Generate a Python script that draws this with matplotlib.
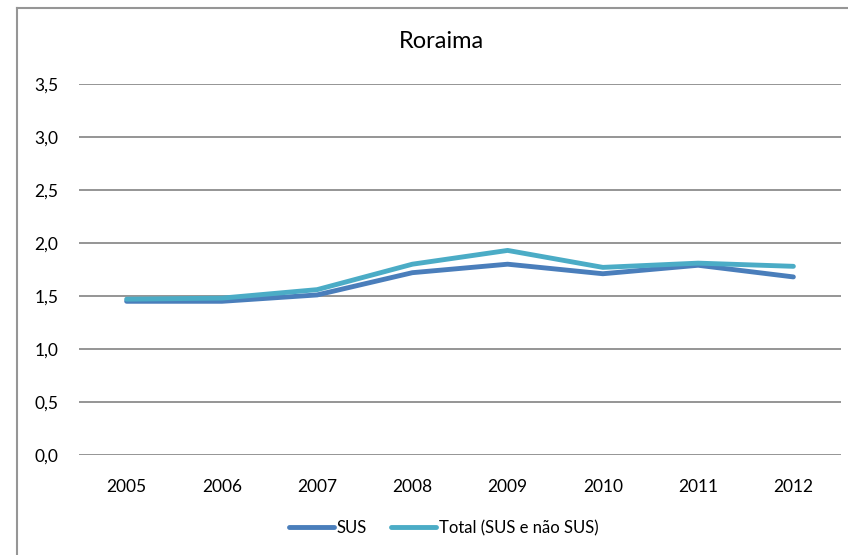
import matplotlib
matplotlib.use("Agg")
import matplotlib.pyplot as plt
from matplotlib.lines import Line2D
from matplotlib.ticker import FuncFormatter

plt.rcParams['font.family'] = ['Lato', 'DejaVu Sans']

anos = ['2005', '2006', '2007', '2008', '2009', '2010', '2011', '2012']
sus = [1.45, 1.45, 1.51, 1.72, 1.80, 1.71, 1.79, 1.68]
total = [1.47, 1.48, 1.56, 1.80, 1.93, 1.77, 1.81, 1.78]

cor_sus = '#4A7EBB'
cor_total = '#4BACC6'

fig = plt.figure(figsize=(8.48, 5.55), dpi=100)
ax = fig.add_axes([79 / 848, 1 - 455 / 555, 762 / 848, 371 / 555])

x = list(range(len(anos)))
ax.plot(x, sus, color=cor_sus, lw=3.5, solid_capstyle='round', label='SUS')
ax.plot(x, total, color=cor_total, lw=3.5, solid_capstyle='round',
        label='Total (SUS e não SUS)')

ax.set_xlim(-0.5, len(anos) - 0.5)
ax.set_ylim(0, 3.5)
ax.set_yticks([0, 0.5, 1.0, 1.5, 2.0, 2.5, 3.0, 3.5])
ax.yaxis.set_major_formatter(FuncFormatter(lambda v, p: f'{v:.1f}'.replace('.', ',')))
ax.set_xticks(x)
ax.set_xticklabels(anos)
ax.grid(axis='y', color='#8C8C8C', lw=1.3)
ax.set_axisbelow(True)
for s in ax.spines.values():
    s.set_visible(False)
ax.tick_params(length=0, labelsize=12.5, colors='#000000')
ax.tick_params(axis='y', pad=15)
ax.tick_params(axis='x', pad=17)

fig.text(441 / 848, 1 - 41 / 555, 'Roraima', ha='center', va='center', fontsize=17)

handles = [Line2D([], [], color=cor_sus, lw=3.5, solid_capstyle='round'),
           Line2D([], [], color=cor_total, lw=3.5, solid_capstyle='round')]
fig.legend(handles, ['SUS', 'Total (SUS e não SUS)'], loc='center',
           bbox_to_anchor=(444 / 848, 1 - 528 / 555), ncol=2, frameon=False,
           fontsize=12, handlelength=2.65, handletextpad=0.2, columnspacing=1.45,
           borderpad=0, borderaxespad=0)

# moldura do gráfico (só esquerda e topo visíveis)
fig.add_artist(Line2D([17 / 848, 17 / 848], [0, 1 - 8 / 555], color='#969696', lw=1.5))
fig.add_artist(Line2D([17 / 848, 1], [1 - 8 / 555, 1 - 8 / 555], color='#969696', lw=1.5))

fig.savefig('out.png', dpi=100)
